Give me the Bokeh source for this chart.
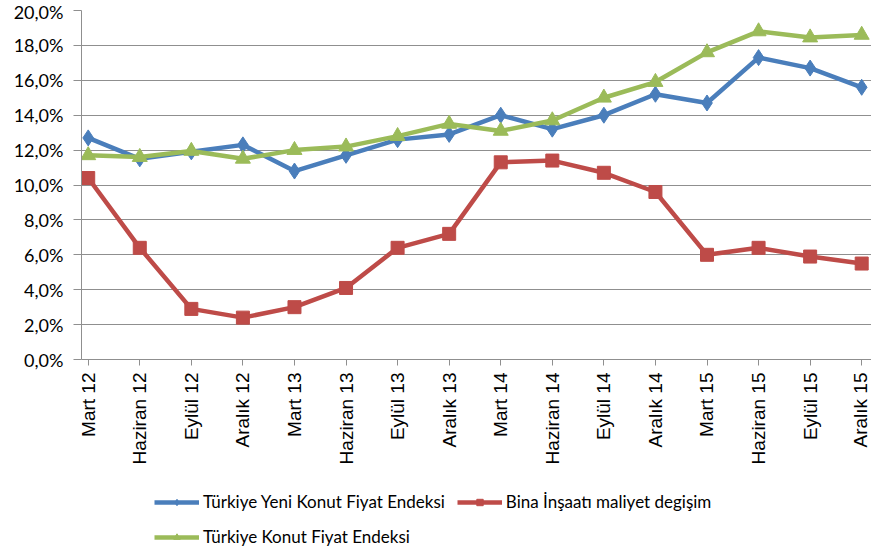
import math
from bokeh.plotting import figure
from bokeh.models import FixedTicker, Legend, LegendItem, Range1d
from bokeh.embed import file_html
from bokeh.resources import INLINE

categories = ["Mart 12", "Haziran 12", "Eylül 12", "Aralık 12",
              "Mart 13", "Haziran 13", "Eylül 13", "Aralık 13",
              "Mart 14", "Haziran 14", "Eylül 14", "Aralık 14",
              "Mart 15", "Haziran 15", "Eylül 15", "Aralık 15"]

yeni_konut = [12.7, 11.5, 11.9, 12.3, 10.8, 11.7, 12.6, 12.9,
              14.0, 13.2, 14.0, 15.2, 14.7, 17.3, 16.7, 15.6]
insaat_maliyet = [10.4, 6.4, 2.9, 2.4, 3.0, 4.1, 6.4, 7.2,
                  11.3, 11.4, 10.7, 9.6, 6.0, 6.4, 5.9, 5.5]
konut_fiyat = [11.7, 11.6, 11.95, 11.5, 12.0, 12.2, 12.8, 13.5,
               13.1, 13.7, 15.0, 15.9, 17.6, 18.8, 18.45, 18.6]

series_names = ["Türkiye Yeni Konut Fiyat Endeksi",
                "Bina İnşaatı maliyet degişim",
                "Türkiye Konut Fiyat Endeksi"]

y_ticks = [0, 2, 4, 6, 8, 10, 12, 14, 16, 18, 20]
y_tick_labels = ["0,0%", "2,0%", "4,0%", "6,0%", "8,0%", "10,0%",
                 "12,0%", "14,0%", "16,0%", "18,0%", "20,0%"]

BLUE = "#4a7ebb"
RED = "#be4b48"
GREEN = "#9bbb59"

x = list(range(len(categories)))
y_min, y_max = y_ticks[0], y_ticks[-1]

# frame extends below the value axis to hold the category labels and legend
p = figure(width=871, height=548, output_backend="svg", toolbar_location=None,
           x_range=Range1d(-0.13, len(categories) - 1 + 0.19),
           y_range=Range1d(-10.83, y_max),
           min_border_left=81, min_border_top=10, min_border_right=0,
           min_border_bottom=0)
p.outline_line_color = None
p.background_fill_color = "white"
p.border_fill_color = "white"

p.xgrid.grid_line_color = None
p.ygrid.grid_line_color = "#8f8f8f"
p.ygrid.grid_line_width = 1

# y axis
p.yaxis.ticker = FixedTicker(ticks=y_ticks)
p.yaxis.bounds = (y_min, y_max)
p.yaxis.major_label_overrides = {t: l for t, l in zip(y_ticks, y_tick_labels)}
p.yaxis.axis_line_color = "#8f8f8f"
p.yaxis.major_tick_line_color = "#8f8f8f"
p.yaxis.major_tick_out = 8
p.yaxis.major_tick_in = 0
p.yaxis.minor_tick_line_color = None
p.yaxis.major_label_text_font = "Lato"
p.yaxis.major_label_text_font_size = "18px"
p.yaxis.major_label_text_color = "#000000"
p.yaxis.major_label_standoff = 10

# x axis, pinned at 0
p.xaxis.fixed_location = y_min
p.xaxis.ticker = FixedTicker(ticks=x)
p.xaxis.major_label_overrides = {i: c for i, c in zip(x, categories)}
p.xaxis.major_label_orientation = math.pi / 2
p.xaxis.axis_line_color = "#8f8f8f"
p.xaxis.major_tick_line_color = "#8f8f8f"
p.xaxis.major_tick_out = 6
p.xaxis.major_tick_in = 0
p.xaxis.minor_tick_line_color = None
p.xaxis.major_label_text_font = "Liberation Sans"
p.xaxis.major_label_text_font_size = "19px"
p.xaxis.major_label_text_color = "#000000"
p.xaxis.major_label_standoff = 7

l1 = p.line(x, yeni_konut, line_color=BLUE, line_width=4.5)
m1 = p.scatter(x, yeni_konut, marker="diamond", size=16, fill_color=BLUE, line_color=BLUE)
l2 = p.line(x, insaat_maliyet, line_color=RED, line_width=4.5)
m2 = p.scatter(x, insaat_maliyet, marker="square", size=13, fill_color=RED, line_color=RED)
l3 = p.line(x, konut_fiyat, line_color=GREEN, line_width=4.5)
m3 = p.scatter(x, konut_fiyat, marker="triangle", size=15, fill_color=GREEN, line_color=GREEN)

legend = Legend(items=[
    LegendItem(label=series_names[0], renderers=[l1, m1]),
    LegendItem(label=series_names[1], renderers=[l2, m2]),
    LegendItem(label=series_names[2], renderers=[l3, m3]),
], location=(73, 0), orientation="horizontal", ncols=2)
legend.border_line_color = None
legend.background_fill_alpha = 0
legend.padding = 1
legend.margin = 0
legend.spacing = 12
legend.label_height = 23
legend.glyph_height = 16
legend.glyph_width = 45
legend.label_standoff = 4
legend.label_text_font = "Lato"
legend.label_text_font_size = "17px"
legend.label_text_color = "#000000"
p.add_layout(legend, "center")

open("out.html", "w").write(file_html(p, INLINE))
